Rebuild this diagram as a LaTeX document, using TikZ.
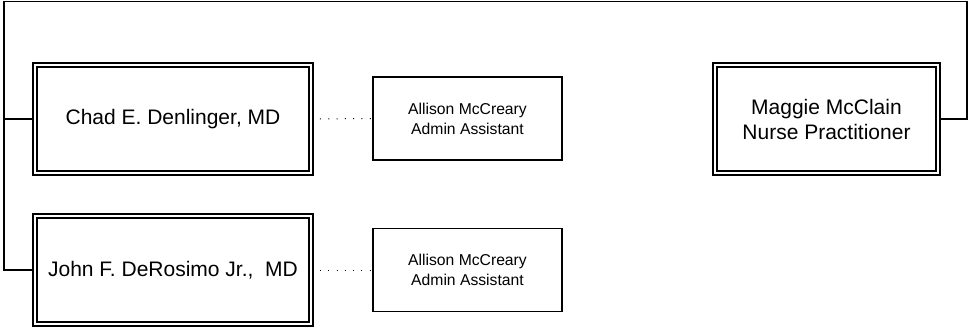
\documentclass[tikz,border=0pt]{standalone}
\usepackage{fontspec}
\setmainfont{Liberation Sans}
\usetikzlibrary{positioning, calc}

\begin{document}
\begin{tikzpicture}[x=0.5pt, y=-0.5pt,
  person/.style={draw, rectangle, double, double distance=1.4pt, line width=0.95pt, minimum width=138pt, minimum height=54pt, align=center, inner sep=0pt, font=\fontsize{10.5}{12.5}\selectfont},
  helper/.style={draw, rectangle, line width=0.9pt, minimum width=94.5pt, minimum height=41.5pt, align=center, inner sep=0pt, font=\fontsize{7.85}{10}\selectfont},
  tree/.style={line width=0.85pt},
  dots/.style={line width=0.5pt, dash pattern=on 0.5pt off 3.65pt, shorten <=4pt}
]
  \useasboundingbox (0,0) rectangle (970,327);

  \node[person]                        (chad)   at (173,  119)   {Chad E. Denlinger, MD};
  \node[person]                        (john)   at (173,  270)   {John F. DeRosimo Jr.,\ \ MD};
  \node[person, minimum width=111.5pt] (maggie) at (826.5,119)   {Maggie McClain\\Nurse Practitioner};
  \node[helper]                        (asst1)  at (467.5,118.5) {Allison McCreary\\Admin Assistant};
  \node[helper]                        (asst2)  at (467.5,270)   {Allison McCreary\\Admin Assistant};

  \coordinate (topleft)  at (4,  1.5);
  \coordinate (topright) at (967,1.5);

  \draw[tree] (maggie.east) -| (topright) -| (topleft) |- (john.west);
  \draw[tree] (chad.west) -- (chad.west -| topleft);
  \draw[dots] (chad.east) -- (asst1.west);
  \draw[dots] (john.east) -- (asst2.west);
\end{tikzpicture}
\end{document}
